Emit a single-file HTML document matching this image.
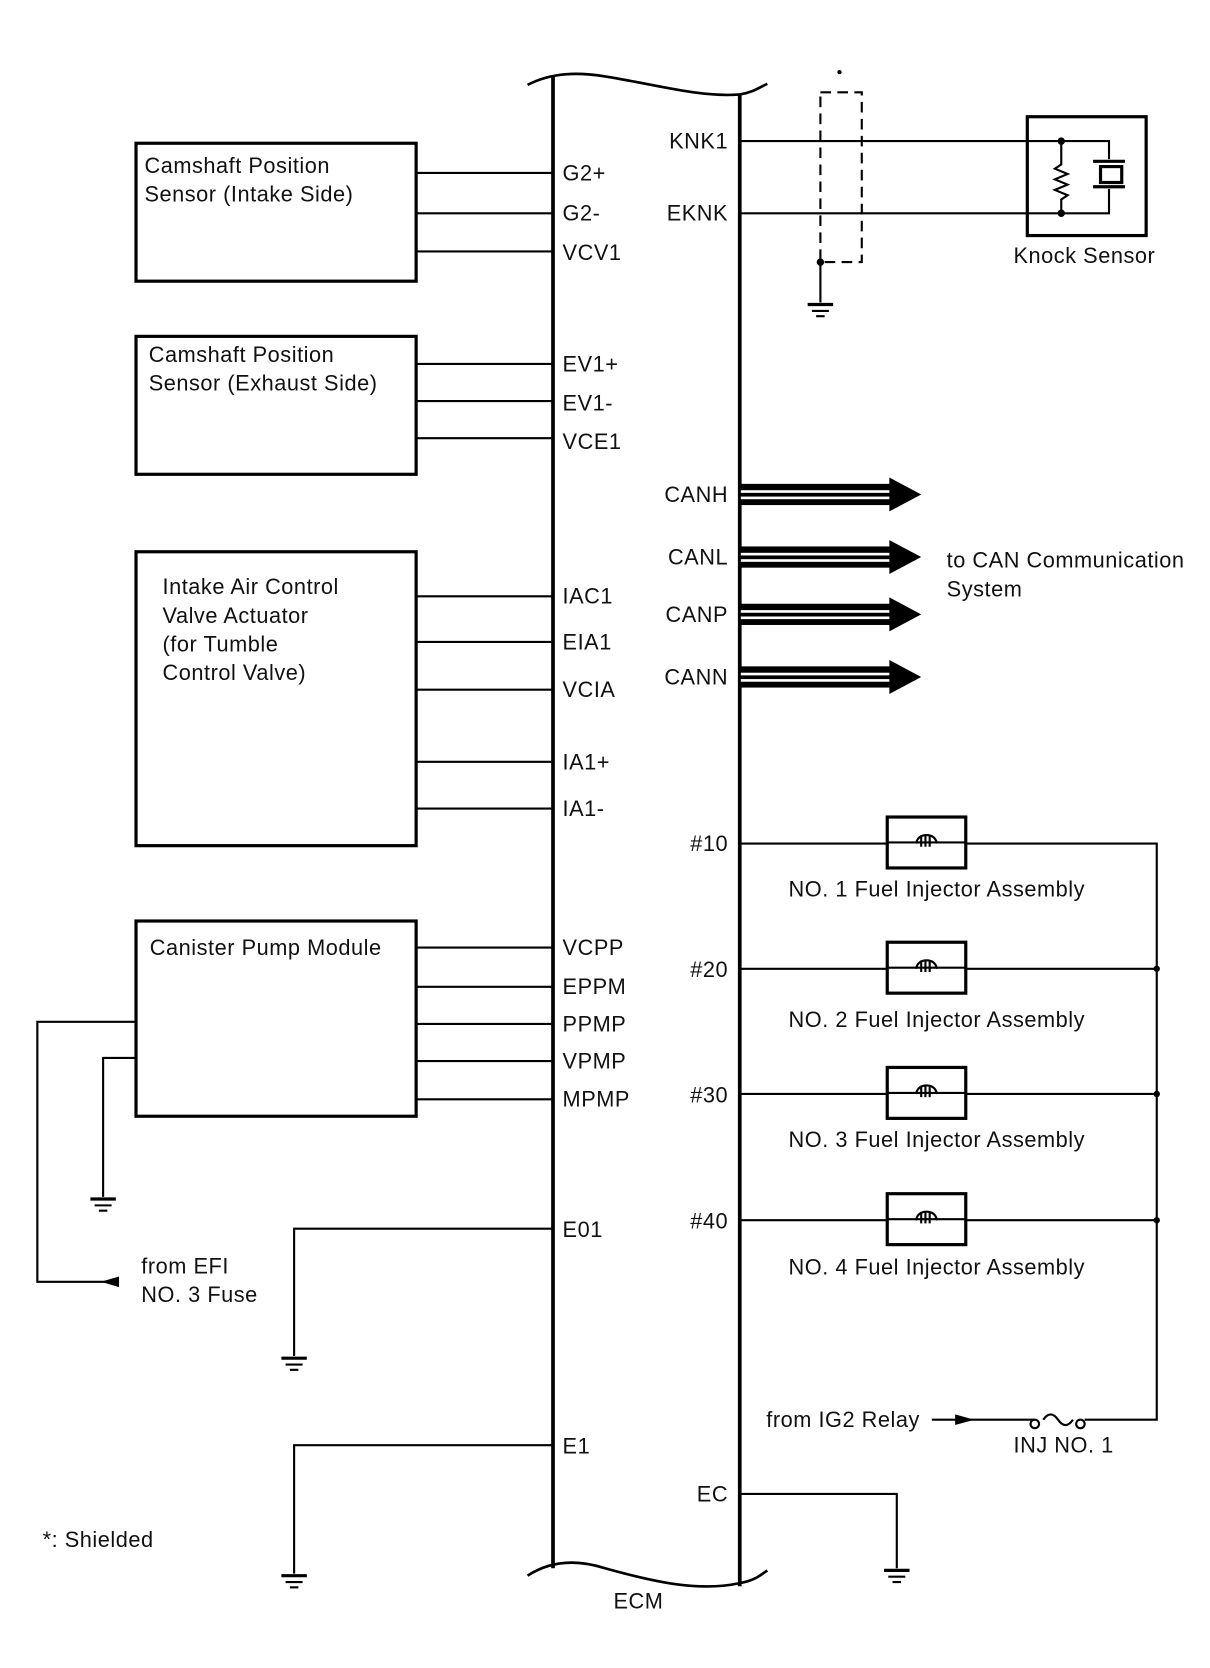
<!DOCTYPE html>
<html><head><meta charset="utf-8"><style>
html,body{margin:0;padding:0;background:#fff}
svg{display:block}
text{font-family:"Liberation Sans",Arial,sans-serif;font-size:20.5px;letter-spacing:0.5px;fill:#111}
</style></head><body>
<svg width="1210" height="1668" viewBox="0 0 1140 1572" xmlns="http://www.w3.org/2000/svg">
<defs>
<g id="gnd"><line x1="-12" y1="0" x2="12" y2="0" stroke="#000" stroke-width="3"/><line x1="-8" y1="6" x2="8" y2="6" stroke="#000" stroke-width="2"/><line x1="-4" y1="11" x2="4" y2="11" stroke="#000" stroke-width="2"/></g>
<g id="can"><rect x="0" y="-10" width="143" height="20" fill="#000"/><rect x="0" y="-4" width="143" height="2.5" fill="#fff"/><rect x="0" y="2" width="143" height="2.5" fill="#fff"/><polygon points="140,-16 170,0 140,16" fill="#000"/></g>
<g id="inj"><rect x="-37" y="-24" width="74" height="48" fill="#fff" stroke="#000" stroke-width="3"/><line x1="-37" y1="0" x2="37" y2="0" stroke="#000" stroke-width="2"/><path d="M-10,1 Q-8,-7 0,-7 Q8,-7 10,1" fill="none" stroke="#000" stroke-width="2"/><path d="M-5,-6 v10 M-1,-7 v11 M3,-6 v10" stroke="#000" stroke-width="2"/></g>
</defs>
<g stroke="#000" fill="none">
<line x1="521" y1="72" x2="521" y2="1478" stroke-width="3.5"/>
<line x1="697" y1="89" x2="697" y2="1495" stroke-width="3.5"/>
<path d="M497,80 C520,68 545,68 570,72 C620,80 660,92 697,89 C710,87 716,82 723,79" stroke-width="2.5"/>
<path d="M497,1485 C520,1470 545,1470 570,1478 C620,1492 660,1500 697,1492 C710,1490 716,1485 723,1480" stroke-width="2.5"/>
<rect x="128" y="135" width="264" height="130" stroke-width="3"/>
<rect x="128" y="317" width="264" height="130" stroke-width="3"/>
<rect x="128" y="520" width="264" height="277" stroke-width="3"/>
<rect x="128" y="868" width="264" height="184" stroke-width="3"/>
<g stroke-width="2">
<path d="M392,163H521M392,201H521M392,237H521M392,343H521M392,378H521M392,413H521M392,562H521M392,605H521M392,650H521M392,718H521M392,762H521M392,893H521M392,930H521M392,965H521M392,1000H521M392,1036H521"/>
<path d="M128,963H35V1208H112"/>
<path d="M128,997H97V1128"/>
<path d="M521,1158H277V1278"/>
<path d="M521,1362H277V1483"/>
<path d="M697,1408H845V1478"/>
<path d="M697,133H1045V150M697,201H1045V178"/>
<path d="M1000,133V155 l-6,4 12,5 -12,5 12,5 -12,5 12,5 -6,4 V201"/>
<path d="M773,247V285"/>
<path d="M697,795H1090V1338H1022M697,913H1090M697,1031H1090M697,1150H1090"/>
<path d="M878,1338H975"/>
</g>
<rect x="968" y="110" width="112" height="112" stroke-width="3"/>
<path d="M1030,152H1060M1030,176H1060" stroke-width="3"/>
<rect x="1037" y="157" width="20" height="15" stroke-width="3"/>
<rect x="773" y="87" width="39" height="160" stroke-width="2" stroke-dasharray="10,6"/>
<path d="M975,1338 m0,0 a4,4 0 1,0 0.1,0 M1018,1338 a4,4 0 1,0 0.1,0" stroke-width="2"/>
<path d="M983,1338 Q990,1328 997,1338 Q1004,1348 1011,1338" stroke-width="2"/>
</g>
<g fill="#000">
<circle cx="1000" cy="133" r="3.5"/><circle cx="1000" cy="201" r="3.5"/>
<circle cx="773" cy="247" r="3.5"/>
<circle cx="1090" cy="913" r="3"/><circle cx="1090" cy="1031" r="3"/><circle cx="1090" cy="1150" r="3"/>
<polygon points="95,1208 112,1203 112,1213"/>
<polygon points="918,1338 900,1333 900,1343"/>
<circle cx="791" cy="68" r="2"/>
</g>
<use href="#gnd" x="773" y="287"/>
<use href="#gnd" x="97" y="1130"/>
<use href="#gnd" x="277" y="1280"/>
<use href="#gnd" x="277" y="1485"/>
<use href="#gnd" x="845" y="1480"/>
<use href="#can" x="698" y="466"/>
<use href="#can" x="698" y="525"/>
<use href="#can" x="698" y="579"/>
<use href="#can" x="698" y="638"/>
<use href="#inj" x="873" y="794"/>
<use href="#inj" x="873" y="912"/>
<use href="#inj" x="873" y="1030"/>
<use href="#inj" x="873" y="1149"/>
<text x="136" y="163">Camshaft Position</text>
<text x="136" y="190">Sensor (Intake Side)</text>
<text x="140" y="341">Camshaft Position</text>
<text x="140" y="368">Sensor (Exhaust Side)</text>
<text x="153" y="560">Intake Air Control</text>
<text x="153" y="587">Valve Actuator</text>
<text x="153" y="614">(for Tumble</text>
<text x="153" y="641">Control Valve)</text>
<text x="141" y="900">Canister Pump Module</text>
<text x="133" y="1200">from EFI</text>
<text x="133" y="1227">NO. 3 Fuse</text>
<text x="40" y="1458">*: Shielded</text>
<text x="578" y="1516">ECM</text>
<g>
<text x="530" y="170">G2+</text><text x="530" y="208">G2-</text><text x="530" y="245">VCV1</text>
<text x="530" y="350">EV1+</text><text x="530" y="387">EV1-</text><text x="530" y="423">VCE1</text>
<text x="530" y="569">IAC1</text><text x="530" y="612">EIA1</text><text x="530" y="657">VCIA</text>
<text x="530" y="725">IA1+</text><text x="530" y="769">IA1-</text>
<text x="530" y="900">VCPP</text><text x="530" y="937">EPPM</text><text x="530" y="972">PPMP</text><text x="530" y="1007">VPMP</text><text x="530" y="1043">MPMP</text>
<text x="530" y="1166">E01</text><text x="530" y="1370">E1</text>
</g>
<g text-anchor="end">
<text x="686" y="140">KNK1</text><text x="686" y="208">EKNK</text>
<text x="686" y="473">CANH</text><text x="686" y="532">CANL</text><text x="686" y="586">CANP</text><text x="686" y="645">CANN</text>
<text x="686" y="802">#10</text><text x="686" y="921">#20</text><text x="686" y="1039">#30</text><text x="686" y="1158">#40</text>
<text x="686" y="1415">EC</text>
</g>
<text x="955" y="248">Knock Sensor</text>
<text x="892" y="535">to CAN Communication</text>
<text x="892" y="562">System</text>
<text x="743" y="845">NO. 1 Fuel Injector Assembly</text>
<text x="743" y="968">NO. 2 Fuel Injector Assembly</text>
<text x="743" y="1081">NO. 3 Fuel Injector Assembly</text>
<text x="743" y="1201">NO. 4 Fuel Injector Assembly</text>
<text x="722" y="1345">from IG2 Relay</text>
<text x="955" y="1369">INJ NO. 1</text>
</svg>
</body></html>
